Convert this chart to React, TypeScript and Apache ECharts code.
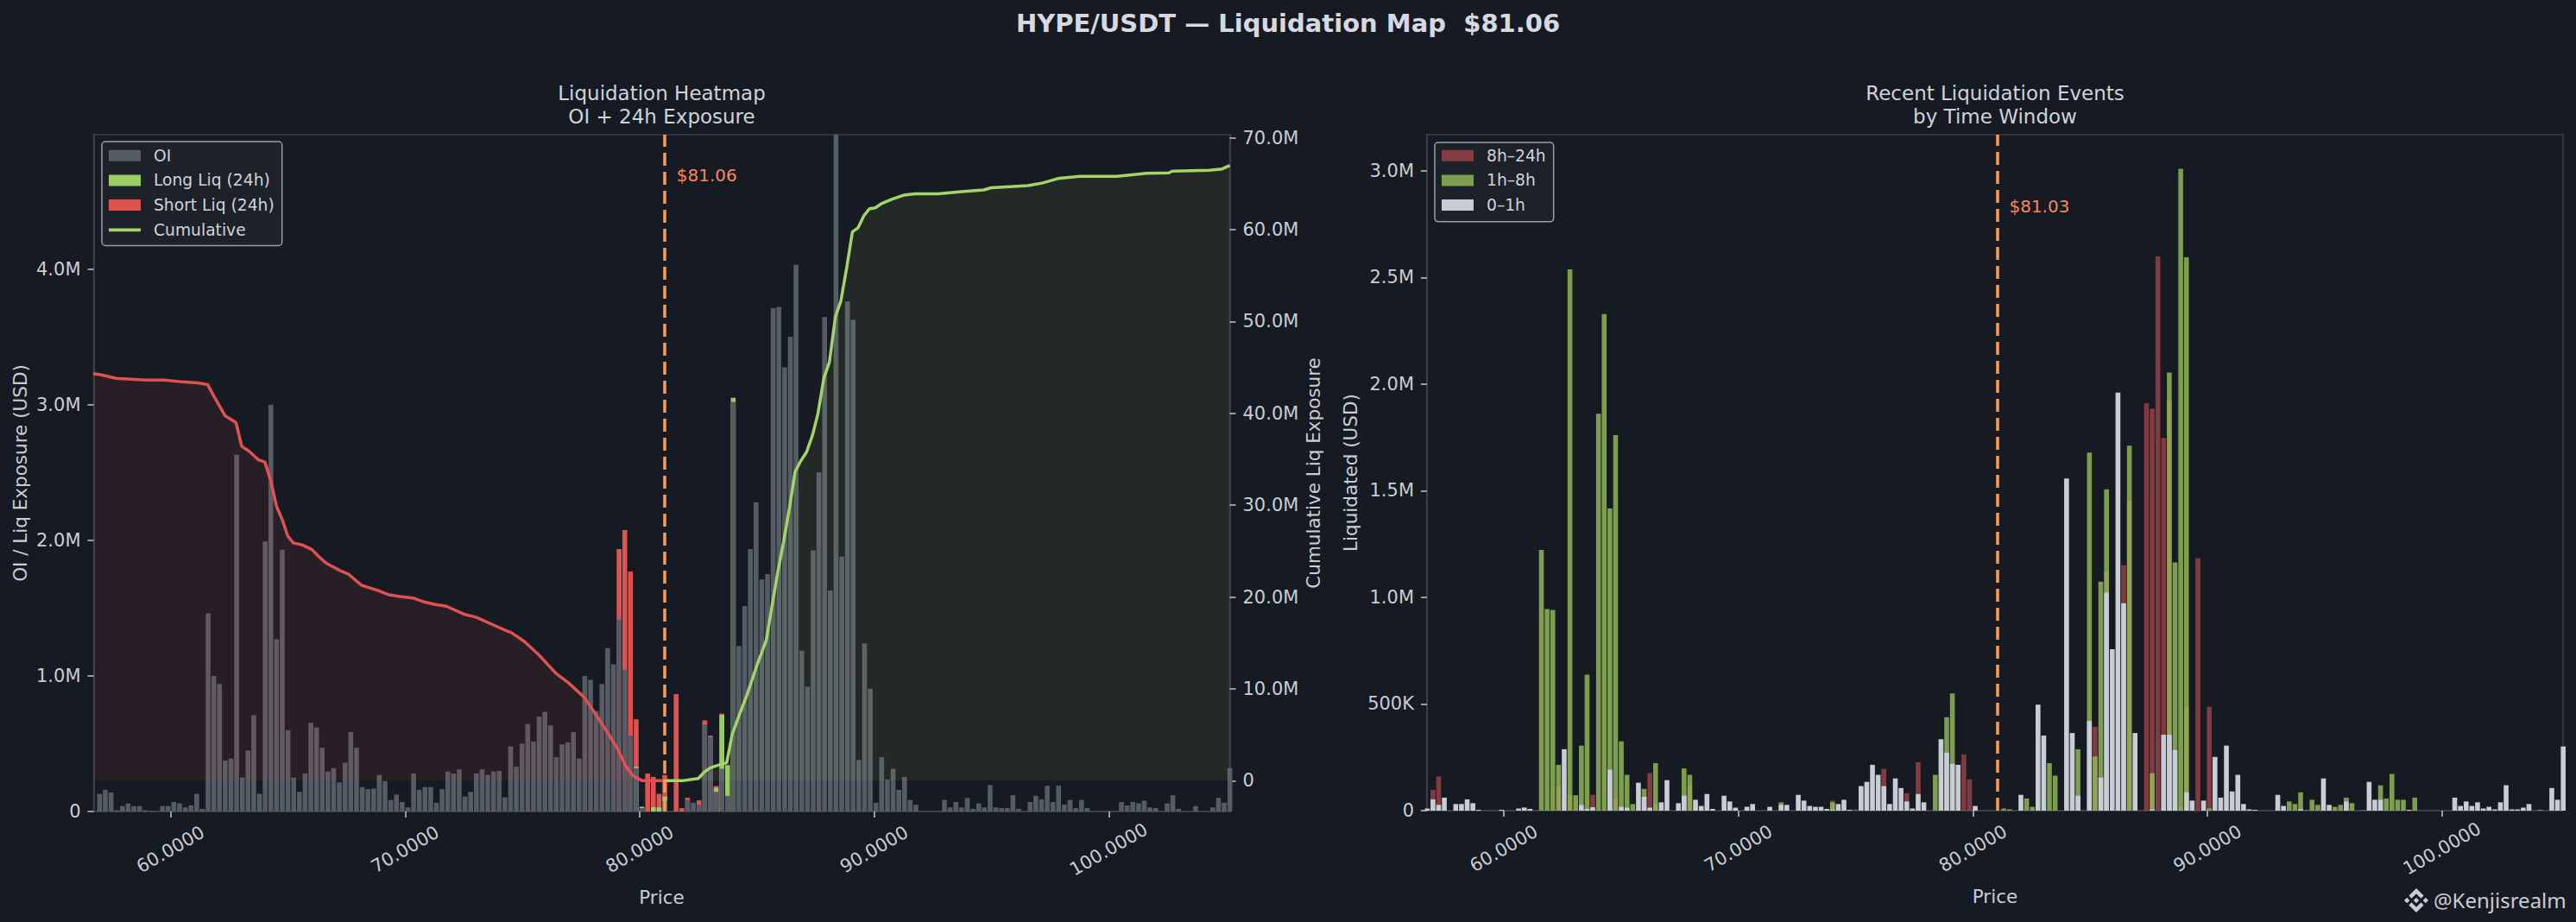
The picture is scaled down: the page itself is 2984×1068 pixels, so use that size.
import React, { useEffect, useRef } from "react";
import * as echarts from "echarts";

// ---------- texts ----------
const TITLE = "HYPE/USDT — Liquidation Map  $81.06";
const LEFT_SUBTITLE = "Liquidation Heatmap\nOI + 24h Exposure";
const RIGHT_SUBTITLE = "Recent Liquidation Events\nby Time Window";
const WATERMARK = "@Kenjisrealm";
const CURRENT_PRICE = 81.06;
const EVENT_PRICE = 81.03;

// ---------- price bins ----------
const BIN_START = 56.73;
const BIN_STEP = 0.2434;
const X_MIN = 56.72;
const X_MAX = 105.16;
const X_TICKS = [60, 70, 80, 90, 100];

// ---------- axes ----------
const OI_TICKS = [0, 1e6, 2e6, 3e6, 4e6];
const OI_MAX = 4.99e6;
const CUM_TICKS = [0, 10e6, 20e6, 30e6, 40e6, 50e6, 60e6, 70e6];
const CUM_MIN = -3.35e6;
const CUM_MAX = 70.35e6;
const EVT_TICKS = [0, 0.5e6, 1e6, 1.5e6, 2e6, 2.5e6, 3e6];
const EVT_MAX = 3.17e6;

// ---------- left chart: OI per bin (USD millions), 200 bins ----------
const OI_M = [
  0,
  0.13, 0.16, 0.14, 0.01, 0.04, 0.06, 0.04, 0.04, 0.01, 0.005,
  0, 0.04, 0.04, 0.07, 0.06, 0.03, 0.045, 0.13, 0.02, 1.46,
  1.0, 0.94, 0.375, 0.39, 2.63, 0.25, 0.45, 0.71, 0.13, 1.99,
  3.0, 1.27, 1.93, 0.6, 0.25, 0.145, 0.28, 0.655, 0.62, 0.47,
  0.295, 0.32, 0.215, 0.36, 0.585, 0.47, 0.18, 0.165, 0.17, 0.27,
  0.225, 0.085, 0.125, 0.07, 0.03, 0.28, 0.16, 0.18, 0.18, 0.065,
  0.165, 0.295, 0.28, 0.31, 0.11, 0.145, 0.28, 0.31, 0.27, 0.295,
  0.3, 0.105, 0.48, 0.33, 0.5, 0.645, 0.515, 0.7, 0.735, 0.635,
  0.4, 0.495, 0.51, 0.585, 0.39, 1.0, 0.97, 0.74, 0.94, 1.205,
  1.085, 1.415, 1.045, 0.56, 0.32, 0.025, 0, 0, 0, 0.08,
  0, 0, 0, 0.085, 0.065, 0.05, 0.64, 0.55, 0.145, 0.315,
  0.115, 3.02, 1.22, 1.515, 1.935, 2.28, 1.71, 1.75, 3.71, 3.72,
  3.275, 3.5, 4.03, 1.185, 0.92, 1.925, 2.5, 3.645, 1.63, 5.2,
  1.88, 3.76, 3.625, 0.38, 1.24, 0.905, 0.065, 0.4, 0.235, 0.315,
  0.16, 0.255, 0.085, 0.05, 0, 0, 0, 0, 0.085, 0.03,
  0.07, 0.03, 0.1, 0.02, 0.06, 0.03, 0.195, 0.03, 0.025, 0.025,
  0.12, 0.02, 0, 0.07, 0.115, 0.09, 0.19, 0.07, 0.19, 0.05,
  0.085, 0.025, 0.085, 0.025, 0, 0, 0, 0, 0, 0.07,
  0.045, 0.07, 0.06, 0.08, 0.03, 0.025, 0, 0.06, 0.12, 0.02,
  0, 0, 0.04, 0, 0, 0.03, 0.1, 0.065,
  0.32,
];

// [bin index, USD millions]
const LONG_LIQ_M = [
  [95, 0.01], [96, 0.01], [98, 0.032], [99, 0.03], [100, 0.03],
  [109, 0.03], [110, 0.397], [111, 0.227], [112, 0.03],
];
const SHORT_LIQ_M = [
  [92, 0.52], [93, 1.03], [94, 1.21], [95, 0.35], [97, 0.28], [98, 0.223],
  [99, 0.1], [100, 0.16], [102, 0.866], [103, 0.025], [104, 0.017],
  [106, 0.032], [107, 0.032], [108, 0.01], [109, 0.013], [110, 0.01],
];

// cumulative exposure curves (price, USD millions)
const SHORT_CUM_PRICE = [
  56.7, 57.05, 57.68, 58.94, 59.72, 60.51, 61.14, 61.58, 61.85, 62.32, 62.79,
  63.03, 63.34, 63.74, 64.02, 64.29, 64.52, 64.76, 65.0, 65.23, 65.62, 66.02,
  66.33, 66.65, 67.28, 67.59, 68.14, 68.85, 69.32, 69.79, 70.34, 70.74, 71.29,
  71.76, 72.55, 73.02, 73.73, 74.36, 74.52, 75.07, 75.7, 76.44, 76.96, 77.51,
  77.66, 78.14, 78.61, 79.08, 79.39, 79.71, 80.1, 80.82, 81.06,
];
const SHORT_CUM_M = [
  44.33, 44.19, 43.81, 43.62, 43.62, 43.43, 43.33, 43.14, 41.86, 39.76, 39.0,
  36.43, 35.9, 34.95, 34.71, 32.48, 29.86, 28.43, 26.62, 25.9, 25.67, 25.19,
  24.38, 23.67, 22.81, 22.48, 21.29, 20.71, 20.24, 20.05, 19.9, 19.52, 19.19,
  19.0, 18.1, 17.81, 17.0, 16.29, 16.14, 15.19, 13.71, 11.67, 10.67, 9.38,
  9.0, 7.19, 5.33, 3.38, 1.67, 0.57, 0.0, 0.0, 0.0,
];
const LONG_CUM_PRICE = [
  81.06, 81.82, 82.5, 82.76, 83.0, 83.31, 83.71, 83.95, 84.26, 84.58, 84.97,
  85.4, 85.65, 85.89, 86.14, 86.39, 86.63, 86.88, 87.12, 87.37, 87.6, 87.86,
  88.09, 88.35, 88.58, 88.84, 89.07, 89.32, 89.56, 89.8, 90.05, 90.29, 90.77,
  91.26, 91.75, 92.73, 93.72, 94.67, 94.99, 95.93, 96.56, 97.19, 97.83, 98.77,
  100.35, 101.61, 102.56, 102.71, 104.29, 104.84, 105.16,
];
const LONG_CUM_M = [
  0, 0, 0.24, 0.95, 1.38, 1.67, 1.95, 5.1, 7.24, 9.38, 12.33,
  15.33, 19.14, 22.71, 26.05, 29.76, 33.67, 34.86, 35.81, 37.62, 39.95, 43.9,
  45.57, 50.57, 52.24, 56.05, 59.76, 60.24, 61.52, 62.29, 62.38, 62.81, 63.33,
  63.76, 63.9, 63.9, 64.14, 64.33, 64.57, 64.71, 64.81, 65.1, 65.57, 65.81,
  65.81, 66.14, 66.19, 66.38, 66.48, 66.62, 67.0,
];

// ---------- right chart: liquidation events [bin index, USD millions] ----------
const EVT_8H_24H_M = [
  [1, 0.098], [2, 0.16], [23, 0.117], [25, 0.075], [29, 0.074], [33, 0.055],
  [39, 0.176], [40, 0.031], [46, 0.117], [71, 0.047], [75, 0.006], [80, 0.196],
  [84, 0.082], [86, 0.227], [94, 0.264], [95, 0.147], [117, 0.393], [119, 1.119],
  [122, 1.151], [123, 1.454], [126, 1.91], [127, 1.885], [128, 2.599], [129, 1.748],
  [130, 1.926], [132, 0.02], [133, 0.485], [135, 1.184], [137, 0.487],
];
const EVT_1H_8H_M = [
  [17, 0.016], [20, 1.223], [21, 0.945], [22, 0.941], [23, 0.215], [25, 2.538],
  [26, 0.072], [27, 0.305], [28, 0.638], [30, 1.861], [31, 2.329], [32, 1.417],
  [33, 1.761], [34, 0.325], [35, 0.168], [36, 0.031], [38, 0.102], [40, 0.223],
  [45, 0.198], [46, 0.168], [62, 0.039], [71, 0.039], [89, 0.168], [91, 0.438],
  [92, 0.55], [101, 0.01], [102, 0.006], [105, 0.057], [106, 0.018], [109, 0.223],
  [110, 0.164], [114, 0.288], [116, 1.679], [117, 0.254], [118, 1.074], [119, 1.507],
  [123, 1.712], [127, 0.176], [130, 2.055], [131, 1.164], [132, 3.01], [133, 2.595],
  [137, 0.01], [151, 0.043], [152, 0.031], [153, 0.086], [154, 0.002], [155, 0.051],
  [156, 0.027], [159, 0.018], [160, 0.027], [161, 0.061], [162, 0.035], [164, 0.002],
  [167, 0.119], [168, 0.057], [169, 0.172], [170, 0.051], [171, 0.051], [173, 0.061],
];
const EVT_0H_1H_M = [
  [0, 0.01], [1, 0.053], [2, 0.027], [3, 0.061], [5, 0.031], [6, 0.031], [7, 0.053],
  [8, 0.035], [9, 0.004], [13, 0.004], [16, 0.01], [17, 0.012], [18, 0.008],
  [24, 0.288], [27, 0.027], [28, 0.008], [29, 0.016], [32, 0.192], [34, 0.018],
  [35, 0.014], [37, 0.131], [38, 0.065], [39, 0.014], [41, 0.039], [42, 0.143],
  [44, 0.035], [45, 0.07], [47, 0.051], [48, 0.022], [49, 0.078], [50, 0.008],
  [52, 0.07], [53, 0.043], [54, 0.014], [56, 0.018], [57, 0.031], [60, 0.018],
  [62, 0.027], [63, 0.027], [65, 0.074], [66, 0.047], [67, 0.022], [68, 0.018],
  [69, 0.018], [70, 0.008], [71, 0.004], [72, 0.031], [73, 0.051], [74, 0.004],
  [76, 0.115], [77, 0.135], [78, 0.215], [79, 0.168], [80, 0.115], [81, 0.031],
  [82, 0.151], [83, 0.106], [84, 0.043], [85, 0.01], [86, 0.078], [87, 0.039],
  [90, 0.335], [91, 0.272], [92, 0.219], [93, 0.215], [96, 0.022], [104, 0.074],
  [107, 0.497], [108, 0.352], [112, 1.558], [113, 0.364], [114, 0.07], [116, 0.421],
  [118, 0.155], [119, 1.022], [120, 0.757], [121, 1.961], [122, 0.973], [124, 0.364],
  [127, 0.006], [129, 0.356], [130, 0.356], [131, 0.284], [133, 0.086], [134, 0.047],
  [136, 0.047], [138, 0.252], [139, 0.061], [140, 0.305], [141, 0.09], [142, 0.168],
  [143, 0.031], [144, 0.006], [145, 0.004], [149, 0.074], [150, 0.022], [153, 0.006],
  [157, 0.151], [158, 0.027], [161, 0.043], [165, 0.135], [166, 0.051], [167, 0.051],
  [172, 0.004], [180, 0.061], [181, 0.022], [182, 0.043], [183, 0.022], [184, 0.039],
  [185, 0.01], [186, 0.018], [187, 0.006], [188, 0.039], [189, 0.119], [190, 0.006],
  [191, 0.006], [192, 0.014], [193, 0.031], [195, 0.002], [197, 0.106], [198, 0.051],
  [199, 0.301],
];

// ---------- style ----------
const FONT = "DejaVu Sans";
const BG = "#161a22";
const TEXT = "#c9cdd4";
const SPINE = "#3a3f48";
const TICK = "#c4c8cf";
const OI_COLOR = "#565c66";
const LONG_COLOR = "#9ccc65";
const SHORT_COLOR = "#e0524f";
const CUM_GREEN = "#a3d468";
const CUM_RED = "#e05252";
const DASH_COLOR = "#ff9a55";
const ANNOT_COLOR = "#f7875a";

const BINANCE_D =
  "M38.73 53.2 L63.3 28.62 L87.9 53.22 L102.2 38.91 L63.3 0 L24.42 38.9 Z " +
  "M0 63.31 L14.3 49 L28.61 63.31 L14.3 77.61 Z " +
  "M38.73 73.41 L63.3 98 L87.9 73.4 L102.21 87.69 L63.3 126.61 L24.42 87.72 Z " +
  "M98 63.31 L112.3 49 L126.61 63.31 L112.3 77.61 Z " +
  "M77.83 63.3 L63.3 48.78 L48.81 63.28 L63.32 77.78 Z";

let shapeRegistered = false;
function ensureShape() {
  if (shapeRegistered) return;
  echarts.graphic.registerShape("binanceLogo", echarts.graphic.extendPath(BINANCE_D, {}));
  shapeRegistered = true;
}

const binX = (j: number) => +(BIN_START + j * BIN_STEP).toFixed(4);
const fmtM = (v: number) => (v === 0 ? "0" : (v / 1e6).toFixed(1) + "M");
const fmtEvt = (v: number) =>
  v === 0 ? "0" : v < 1e6 ? (v / 1e3).toFixed(0) + "K" : (v / 1e6).toFixed(1) + "M";

function xAxisCfg(gridIndex: number) {
  return {
    type: "value",
    gridIndex,
    min: X_MIN,
    max: X_MAX,
    name: "Price",
    nameLocation: "middle",
    nameGap: 88,
    nameTextStyle: { color: TEXT, fontSize: 21.5, fontFamily: FONT },
    axisLine: { show: true, onZero: false, lineStyle: { color: SPINE, width: 2 } },
    axisTick: { show: true, customValues: X_TICKS, length: 7, lineStyle: { color: TICK, width: 1.5 } },
    axisLabel: {
      customValues: X_TICKS,
      formatter: (v: number) => v.toFixed(4),
      rotate: 30,
      align: "center",
      verticalAlign: "middle",
      margin: 44,
      color: TEXT,
      fontSize: 21,
      fontFamily: FONT,
    },
    splitLine: { show: false },
  };
}

function yAxisCfg(gridIndex: number, opts: any) {
  return {
    type: "value",
    gridIndex,
    nameLocation: "middle",
    nameRotate: 90,
    nameTextStyle: { color: TEXT, fontSize: 21.5, fontFamily: FONT },
    axisLine: { show: true, lineStyle: { color: SPINE, width: 2 } },
    axisTick: { show: true, customValues: opts.ticks, length: 7, lineStyle: { color: TICK, width: 1.5 } },
    axisLabel: {
      customValues: opts.ticks,
      formatter: opts.fmt,
      margin: 15,
      color: TEXT,
      fontSize: 21,
      fontFamily: FONT,
    },
    splitLine: { show: false },
    ...opts.extra,
  };
}

function legendCfg(left: number, top: number, padding: number[], data: any[]) {
  return {
    show: true,
    orient: "vertical",
    left,
    top,
    padding,
    itemWidth: 37,
    itemHeight: 13,
    itemGap: 6.3,
    backgroundColor: "#1d2129",
    borderColor: "#9a9ea5",
    borderWidth: 1.5,
    borderRadius: 4,
    selectedMode: false,
    textStyle: {
      color: "#d0d4da",
      fontSize: 18.7,
      lineHeight: 22.4,
      fontFamily: FONT,
      padding: [0, 0, 0, 10],
    },
    data,
  };
}

export default function App() {
  const ref = useRef<HTMLDivElement>(null);

  useEffect(() => {
    if (!ref.current) return;
    ensureShape();
    const chart = echarts.init(ref.current, undefined, { renderer: "svg" });

    // left chart bars (drawn overlapped: totals first, then lower layers on top)
    const longAt = (j: number) => {
      const p = LONG_LIQ_M.find((q) => q[0] === j);
      return p ? p[1] : 0;
    };
    const oiData = OI_M.map((v, j) => [binX(j), v * 1e6]);
    const longTop = LONG_LIQ_M.map(([j, v]) => [binX(j), (OI_M[j] + v) * 1e6]);
    const shortTop = SHORT_LIQ_M.map(([j, v]) => [binX(j), (OI_M[j] + longAt(j) + v) * 1e6]);
    const shortCum = SHORT_CUM_PRICE.map((p, i) => [p, SHORT_CUM_M[i] * 1e6]);
    const longCum = LONG_CUM_PRICE.map((p, i) => [p, LONG_CUM_M[i] * 1e6]);
    const toXY = (arr: number[][]) => arr.map(([j, v]) => [binX(j), v * 1e6]);

    const barBase = { type: "bar", barWidth: 5.6, barGap: "-100%", z: 2, silent: true };

    const option: any = {
      animation: false,
      backgroundColor: BG,
      textStyle: { fontFamily: FONT },
      grid: [
        { left: 108.5, top: 156, width: 1316, height: 784, show: true, borderColor: SPINE, borderWidth: 1.5, backgroundColor: "transparent" },
        { left: 1653, top: 156, width: 1316, height: 783, show: true, borderColor: SPINE, borderWidth: 1.5, backgroundColor: "transparent" },
      ],
      xAxis: [xAxisCfg(0), xAxisCfg(1)],
      yAxis: [
        yAxisCfg(0, {
          ticks: OI_TICKS,
          fmt: fmtM,
          extra: { min: 0, max: OI_MAX, position: "left", name: "OI / Liq Exposure (USD)", nameGap: 74 },
        }),
        yAxisCfg(0, {
          ticks: CUM_TICKS,
          fmt: fmtM,
          extra: { min: CUM_MIN, max: CUM_MAX, position: "right", name: "Cumulative Liq Exposure", nameGap: 86 },
        }),
        yAxisCfg(1, {
          ticks: EVT_TICKS,
          fmt: fmtEvt,
          extra: { min: 0, max: EVT_MAX, position: "left", name: "Liquidated (USD)", nameGap: 78 },
        }),
      ],
      legend: [
        legendCfg(118, 164, [5, 9, 7, 8], [
          { name: "OI", icon: "rect" },
          { name: "Long Liq (24h)", icon: "rect" },
          { name: "Short Liq (24h)", icon: "rect" },
          { name: "Cumulative", icon: "path://M0 0 L40 0 L40 4 L0 4 Z" },
        ]),
        legendCfg(1662, 165, [4, 9, 8, 8], [
          { name: "8h–24h", icon: "rect" },
          { name: "1h–8h", icon: "rect" },
          { name: "0–1h", icon: "rect" },
        ]),
      ],
      series: [
        { ...barBase, name: "Short Liq (24h)", xAxisIndex: 0, yAxisIndex: 0, itemStyle: { color: SHORT_COLOR }, data: shortTop },
        { ...barBase, name: "Long Liq (24h)", xAxisIndex: 0, yAxisIndex: 0, itemStyle: { color: LONG_COLOR }, data: longTop },
        { ...barBase, name: "OI", xAxisIndex: 0, yAxisIndex: 0, itemStyle: { color: OI_COLOR }, data: oiData },
        {
          name: "Cumulative Short",
          type: "line",
          xAxisIndex: 0,
          yAxisIndex: 1,
          data: shortCum,
          symbol: "none",
          showSymbol: false,
          z: 3,
          silent: true,
          lineStyle: { color: CUM_RED, width: 3.5 },
          itemStyle: { color: CUM_RED },
          areaStyle: { color: "rgba(224,82,82,0.13)", origin: "auto" },
        },
        {
          name: "Cumulative",
          type: "line",
          xAxisIndex: 0,
          yAxisIndex: 1,
          data: longCum,
          symbol: "none",
          showSymbol: false,
          z: 3,
          silent: true,
          lineStyle: { color: CUM_GREEN, width: 3.5 },
          itemStyle: { color: CUM_GREEN },
          areaStyle: { color: "rgba(156,204,101,0.13)", origin: "auto" },
          markLine: {
            silent: true,
            symbol: ["none", "none"],
            label: { show: false },
            lineStyle: { color: DASH_COLOR, width: 3.5, type: [15, 7] },
            data: [{ xAxis: CURRENT_PRICE }],
          },
        },
        { ...barBase, name: "8h–24h", xAxisIndex: 1, yAxisIndex: 2, itemStyle: { color: "#9e4448", opacity: 0.8 }, data: toXY(EVT_8H_24H_M) },
        { ...barBase, name: "1h–8h", xAxisIndex: 1, yAxisIndex: 2, itemStyle: { color: "#97bf59", opacity: 0.8 }, data: toXY(EVT_1H_8H_M) },
        {
          ...barBase,
          name: "0–1h",
          xAxisIndex: 1,
          yAxisIndex: 2,
          itemStyle: { color: "#c8cdd5" },
          data: toXY(EVT_0H_1H_M),
          markLine: {
            silent: true,
            symbol: ["none", "none"],
            label: { show: false },
            lineStyle: { color: DASH_COLOR, width: 3.5, type: [15, 7] },
            data: [{ xAxis: EVENT_PRICE }],
          },
        },
      ],
    };
    chart.setOption(option);

    const pxL = chart.convertToPixel({ xAxisIndex: 0 } as any, CURRENT_PRICE) as number;
    const pxR = chart.convertToPixel({ xAxisIndex: 1 } as any, EVENT_PRICE) as number;

    chart.setOption({
      graphic: [
        {
          id: "title",
          type: "text",
          x: 1492,
          y: 27,
          style: { text: TITLE, fill: "#d6dae0", font: `bold 29px "${FONT}"`, textAlign: "center", textVerticalAlign: "middle" },
        },
        {
          id: "subL",
          type: "text",
          x: 766.5,
          y: 121.5,
          style: { text: LEFT_SUBTITLE, fill: "#cfd3d9", font: `23px "${FONT}"`, lineHeight: 27, textAlign: "center", textVerticalAlign: "middle" },
        },
        {
          id: "subR",
          type: "text",
          x: 2311,
          y: 121.5,
          style: { text: RIGHT_SUBTITLE, fill: "#cfd3d9", font: `23px "${FONT}"`, lineHeight: 27, textAlign: "center", textVerticalAlign: "middle" },
        },
        {
          id: "annL",
          type: "text",
          x: pxL + 14,
          y: 203,
          z: 10,
          style: { text: "$" + CURRENT_PRICE.toFixed(2), fill: ANNOT_COLOR, font: `20px "${FONT}"`, textAlign: "left", textVerticalAlign: "middle" },
        },
        {
          id: "annR",
          type: "text",
          x: pxR + 14,
          y: 239,
          z: 10,
          style: { text: "$" + EVENT_PRICE.toFixed(2), fill: ANNOT_COLOR, font: `20px "${FONT}"`, textAlign: "left", textVerticalAlign: "middle" },
        },
        {
          id: "logo",
          type: "binanceLogo",
          x: 2785,
          y: 1029,
          scaleX: 28 / 126.61,
          scaleY: 28 / 126.61,
          style: { fill: "#c8ccd3" },
        },
        {
          id: "wm",
          type: "text",
          x: 2819,
          y: 1042,
          style: { text: WATERMARK, fill: "#c8ccd3", font: `24px "Noto Sans"`, textAlign: "left", textVerticalAlign: "middle" },
        },
      ],
    });

    return () => chart.dispose();
  }, []);

  return (
    <div
      ref={ref}
      style={{ position: "fixed", left: 0, top: 0, width: 2984, height: 1068, background: BG }}
    />
  );
}
